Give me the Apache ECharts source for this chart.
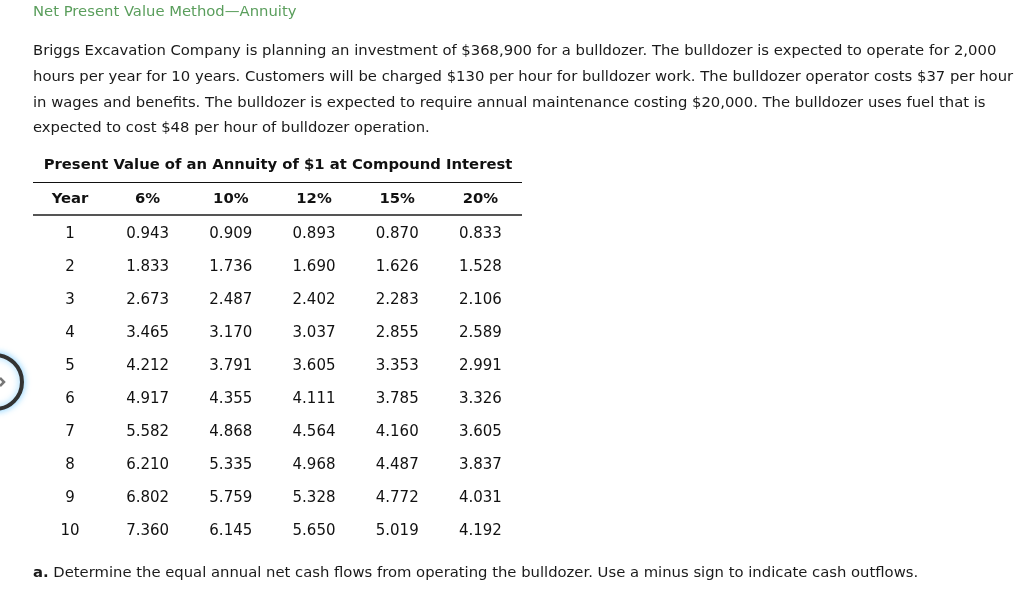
<!DOCTYPE html>
<html>
<head>
<meta charset="utf-8">
<script src="https://cdn.jsdelivr.net/npm/echarts@6/dist/echarts.min.js"></script>
<style>
html,body{margin:0;padding:0;background:#fff;}
#chart{width:1024px;height:613px;}
</style>
</head>
<body>
<div id="chart"></div>
<script>
const titleText = 'Net Present Value Method\u2014Annuity';
const paragraphLines = [
  'Briggs Excavation Company is planning an investment of $368,900 for a bulldozer. The bulldozer is expected to operate for 2,000',
  'hours per year for 10 years. Customers will be charged $130 per hour for bulldozer work. The bulldozer operator costs $37 per hour',
  'in wages and benefits. The bulldozer is expected to require annual maintenance costing $20,000. The bulldozer uses fuel that is',
  'expected to cost $48 per hour of bulldozer operation.'
];
const tableTitle = 'Present Value of an Annuity of $1 at Compound Interest';
const yearHeader = 'Year';
const years = ['1','2','3','4','5','6','7','8','9','10'];
const rates = ['6%','10%','12%','15%','20%'];
const pv6  = [0.943,1.833,2.673,3.465,4.212,4.917,5.582,6.210,6.802,7.360];
const pv10 = [0.909,1.736,2.487,3.170,3.791,4.355,4.868,5.335,5.759,6.145];
const pv12 = [0.893,1.690,2.402,3.037,3.605,4.111,4.564,4.968,5.328,5.650];
const pv15 = [0.870,1.626,2.283,2.855,3.353,3.785,4.160,4.487,4.772,5.019];
const pv20 = [0.833,1.528,2.106,2.589,2.991,3.326,3.605,3.837,4.031,4.192];
const questionLabel = 'a.';
const questionText = ' Determine the equal annual net cash flows from operating the bulldozer. Use a minus sign to indicate cash outflows.';

const FONT = '"DejaVu Sans", Verdana, sans-serif';
const TXT = '#1a1a1a';
const FS = 14.8;
const columns = [pv6, pv10, pv12, pv15, pv20];

const chart = echarts.init(document.getElementById('chart'), null, {renderer: 'canvas'});

const series = columns.map((col, ci) => ({
  type: 'scatter',
  name: rates[ci],
  symbolSize: 1,
  itemStyle: {color: 'rgba(0,0,0,0)', opacity: 1},
  silent: true,
  data: col.map((v, ri) => [rates[ci], years[ri], v]),
  label: {
    show: true,
    position: 'inside',
    formatter: p => p.value[2].toFixed(3),
    color: '#111',
    opacity: 1,
    textBorderWidth: 0,
    fontFamily: FONT,
    fontSize: 15
  }
}));

const graphics = [
  {type: 'text', style: {text: titleText, x: 33, y: 12.5, verticalAlign: 'middle', fill: '#5a9e5c', font: FS + 'px ' + FONT}},
];
paragraphLines.forEach((line, i) => {
  graphics.push({type: 'text', style: {text: line, x: 33, y: 51.5 + i * 25.6, verticalAlign: 'middle', fill: TXT, font: FS + 'px ' + FONT}});
});
graphics.push(
  {type: 'text', style: {text: tableTitle, x: 278, y: 165, align: 'center', verticalAlign: 'middle', fill: '#111', font: 'bold ' + FS + 'px ' + FONT}},
  {type: 'line', shape: {x1: 33, y1: 182.5, x2: 522, y2: 182.5}, style: {stroke: '#111', lineWidth: 1}},
  {type: 'line', shape: {x1: 33, y1: 215, x2: 522, y2: 215}, style: {stroke: '#555', lineWidth: 2}},
  {type: 'text', style: {text: yearHeader, x: 70, y: 199, align: 'center', verticalAlign: 'middle', fill: '#111', font: 'bold ' + FS + 'px ' + FONT}},
  {type: 'text', style: {
    text: '{b|' + questionLabel + '}' + questionText,
    x: 33, y: 573, verticalAlign: 'middle',
    fill: TXT, font: FS + 'px ' + FONT,
    rich: {b: {fontWeight: 'bold', fontFamily: FONT, fontSize: FS, fill: TXT}}
  }},
  {type: 'circle', shape: {cx: -5, cy: 382, r: 27}, style: {fill: '#fff', stroke: '#333', lineWidth: 4, shadowBlur: 7, shadowColor: 'rgba(110,200,255,0.8)'}},
  {type: 'polyline', shape: {points: [[0, 378], [4, 382], [0, 386]]}, style: {stroke: '#777', lineWidth: 2.5, fill: null}}
);

chart.setOption({
  animation: false,
  backgroundColor: '#fff',
  grid: {left: 106, top: 217.5, width: 416, height: 330, containLabel: false},
  xAxis: {
    type: 'category',
    position: 'top',
    data: rates,
    axisLine: {show: false},
    axisTick: {show: false},
    splitLine: {show: false},
    axisLabel: {color: '#111', fontWeight: 'bold', fontFamily: FONT, fontSize: FS, margin: 11}
  },
  yAxis: {
    type: 'category',
    inverse: true,
    data: years,
    axisLine: {show: false},
    axisTick: {show: false},
    splitLine: {show: false},
    axisLabel: {color: '#111', fontFamily: FONT, fontSize: 15, align: 'center', margin: 36}
  },
  series: series,
  graphic: graphics
});
</script>
</body>
</html>
